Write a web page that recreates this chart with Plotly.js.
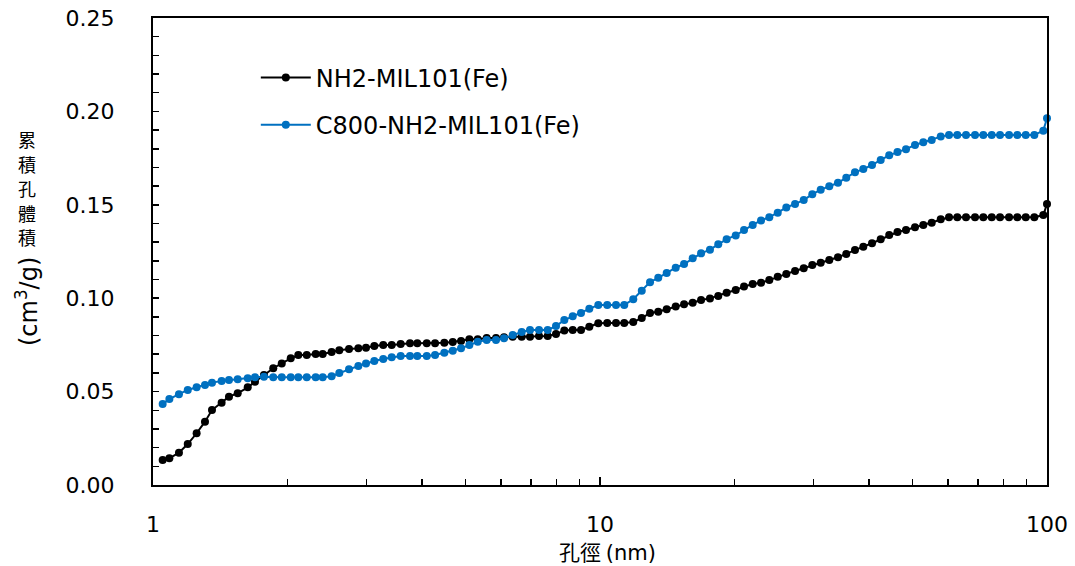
<!DOCTYPE html>
<html>
<head>
<meta charset="utf-8">
<script src="https://cdn.plot.ly/plotly-3.0.1.min.js"></script>
<style>
  html, body { margin: 0; padding: 0; background: #fff; }
  #chart { width: 1075px; height: 566px; }
</style>
</head>
<body>
<div id="chart"></div>
<script>
// Pore diameter (nm), shared by both samples
const poreSize = [
  1.051, 1.088, 1.143, 1.196, 1.252, 1.307, 1.355, 1.424, 1.479, 1.547,
  1.629, 1.691, 1.771, 1.858, 1.941, 2.033, 2.114, 2.208, 2.312, 2.397,
  2.510, 2.611, 2.745, 2.880, 2.996, 3.127, 3.274, 3.420, 3.582, 3.758,
  3.902, 4.097, 4.276, 4.485, 4.684, 4.888, 5.102, 5.327, 5.579, 5.853,
  6.099, 6.378, 6.681, 6.973, 7.304, 7.638, 7.972, 8.321, 8.689, 9.068,
  9.465, 9.913, 10.38, 10.86, 11.33, 11.87, 12.40, 12.94, 13.50, 14.10,
  14.77, 15.42, 16.12, 16.83, 17.62, 18.39, 19.20, 20.12, 21.00, 21.96,
  22.92, 23.92, 24.98, 26.11, 27.31, 28.56, 29.85, 31.17, 32.58, 34.07,
  35.56, 37.19, 38.82, 40.60, 42.46, 44.36, 46.30, 48.37, 50.66, 52.88,
  55.22, 57.84, 60.37, 63.00, 65.89, 69.02, 72.04, 75.22, 78.51, 82.24,
  85.83, 89.62, 93.68, 98.11, 100.0
];

// Cumulative pore volume (cm3/g)
const volNH2MIL101 = [
  0.0134, 0.0143, 0.0173, 0.0219, 0.0277, 0.0339, 0.0401, 0.0440, 0.0473, 0.0491,
  0.0523, 0.0553, 0.0589, 0.0625, 0.0651, 0.0678, 0.0696, 0.0696, 0.0701, 0.0701,
  0.0712, 0.0721, 0.0728, 0.0732, 0.0735, 0.0744, 0.0749, 0.0749, 0.0755, 0.0759,
  0.0759, 0.0759, 0.0759, 0.0762, 0.0766, 0.0771, 0.0780, 0.0780, 0.0787, 0.0787,
  0.0791, 0.0794, 0.0794, 0.0794, 0.0798, 0.0798, 0.0808, 0.0827, 0.0830, 0.0830,
  0.0847, 0.0866, 0.0867, 0.0867, 0.0867, 0.0872, 0.0894, 0.0921, 0.0928, 0.0941,
  0.0955, 0.0967, 0.0976, 0.0990, 0.0999, 0.1012, 0.1029, 0.1044, 0.1062, 0.1076,
  0.1083, 0.1097, 0.1115, 0.1130, 0.1146, 0.1160, 0.1178, 0.1190, 0.1204, 0.1219,
  0.1237, 0.1258, 0.1276, 0.1294, 0.1315, 0.1338, 0.1354, 0.1365, 0.1380, 0.1392,
  0.1404, 0.1422, 0.1433, 0.1433, 0.1433, 0.1433, 0.1433, 0.1433, 0.1433, 0.1433,
  0.1433, 0.1433, 0.1433, 0.1445, 0.1504
];

const volC800 = [
  0.0434, 0.0460, 0.0486, 0.0509, 0.0523, 0.0535, 0.0548, 0.0557, 0.0562, 0.0566,
  0.0571, 0.0577, 0.0580, 0.0577, 0.0577, 0.0577, 0.0577, 0.0577, 0.0577, 0.0577,
  0.0582, 0.0600, 0.0619, 0.0637, 0.0651, 0.0664, 0.0675, 0.0684, 0.0691, 0.0691,
  0.0691, 0.0691, 0.0696, 0.0708, 0.0719, 0.0732, 0.0749, 0.0767, 0.0776, 0.0776,
  0.0785, 0.0803, 0.0819, 0.0830, 0.0830, 0.0830, 0.0851, 0.0883, 0.0903, 0.0921,
  0.0943, 0.0964, 0.0964, 0.0964, 0.0964, 0.0994, 0.1040, 0.1086, 0.1109, 0.1135,
  0.1163, 0.1183, 0.1214, 0.1240, 0.1260, 0.1289, 0.1316, 0.1336, 0.1365, 0.1392,
  0.1416, 0.1434, 0.1458, 0.1486, 0.1504, 0.1526, 0.1556, 0.1581, 0.1599, 0.1618,
  0.1645, 0.1674, 0.1691, 0.1713, 0.1740, 0.1765, 0.1782, 0.1798, 0.1820, 0.1835,
  0.1847, 0.1865, 0.1874, 0.1874, 0.1874, 0.1874, 0.1874, 0.1874, 0.1874, 0.1874,
  0.1874, 0.1874, 0.1874, 0.1897, 0.1963
];

const seriesNames = ['NH2-MIL101(Fe)', 'C800-NH2-MIL101(Fe)'];
const seriesColors = ['#000000', '#0070C0'];

// Y-axis title: stacked CJK characters followed by the rotated unit
const yTitleChars = ['累', '積', '孔', '體', '積'];
const yTitleUnit = '(cm<sup>3</sup>/g)';
const xTitle = '孔徑 <span style="font-family:DejaVu Sans">(nm)</span>';

const latin = 'DejaVu Sans, Liberation Sans, sans-serif';
const cjk = 'Noto Sans CJK TC, Noto Sans CJK SC, sans-serif';

const traces = [volNH2MIL101, volC800].map((vals, i) => ({
  type: 'scatter',
  mode: 'lines+markers',
  name: seriesNames[i],
  legendgroup: 'g' + i,
  x: poreSize,
  y: vals,
  line: { color: seriesColors[i], width: 2 },
  marker: { color: seriesColors[i], size: 8 },
  cliponaxis: false
}));

// plot-area pixel helpers for placing the title annotations
const L = 153, W = 894, B = 485, H = 467;
const px = (x) => (x - L) / W;
const py = (y) => (B - y) / H;

const annotations = [
  {
    xref: 'paper', yref: 'paper', x: px(607), y: py(551),
    xanchor: 'center', yanchor: 'middle',
    text: xTitle, showarrow: false,
    font: { family: cjk, size: 21, color: '#000' }
  },
  {
    xref: 'paper', yref: 'paper', x: px(27), y: py(302),
    xanchor: 'center', yanchor: 'middle', textangle: -90,
    text: yTitleUnit, showarrow: false,
    font: { family: latin, size: 24, color: '#000' }
  }
];
yTitleChars.forEach((ch, i) => {
  annotations.push({
    xref: 'paper', yref: 'paper', x: px(27), y: py(139 + i * 24.5),
    xanchor: 'center', yanchor: 'middle',
    text: ch, showarrow: false,
    font: { family: cjk, size: 18, color: '#000' }
  });
});

const layout = {
  width: 1075,
  height: 566,
  margin: { l: L, r: 28, t: 18, b: 81 },
  paper_bgcolor: '#ffffff',
  plot_bgcolor: '#ffffff',
  showlegend: true,
  legend: {
    x: 0.115, y: 0.92, xanchor: 'left', yanchor: 'top',
    bgcolor: 'rgba(0,0,0,0)',
    font: { family: latin, size: 24, color: '#000' },
    itemwidth: 50,
    tracegroupgap: 13
  },
  xaxis: {
    type: 'log',
    range: [0, 2],
    tickmode: 'linear', tick0: 0, dtick: 1,
    ticks: 'inside', ticklen: 8, tickwidth: 1.5, tickcolor: '#000',
    minor: { dtick: 'D1', ticks: 'inside', ticklen: 6, tickwidth: 1.5, tickcolor: '#000', showgrid: false },
    showline: true, linecolor: '#000', linewidth: 2, mirror: true,
    showgrid: false, zeroline: false,
    ticklabelstandoff: 19,
    tickfont: { family: latin, size: 22, color: '#000' }
  },
  yaxis: {
    range: [0, 0.25],
    dtick: 0.05, tick0: 0, tickformat: '.2f',
    ticks: 'inside', ticklen: 6, tickwidth: 1.5, tickcolor: '#000',
    minor: { dtick: 0.01, ticks: 'inside', ticklen: 6, tickwidth: 1.5, tickcolor: '#000', showgrid: false },
    showline: true, linecolor: '#000', linewidth: 2, mirror: true,
    showgrid: false, zeroline: false,
    ticklabelstandoff: 32,
    tickfont: { family: latin, size: 22, color: '#000' }
  },
  annotations: annotations
};

Plotly.newPlot('chart', traces, layout, { displayModeBar: false, staticPlot: true });
</script>
</body>
</html>
